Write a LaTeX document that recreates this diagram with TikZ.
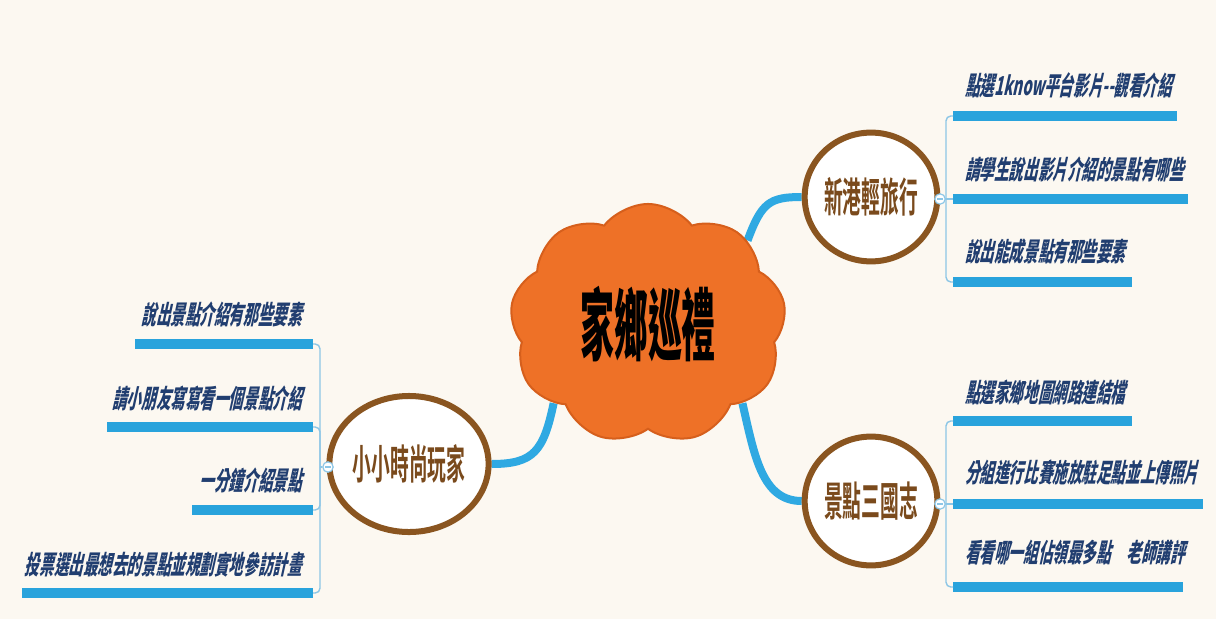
\documentclass[tikz,border=0pt]{standalone}
\usepackage{fontspec}
\usetikzlibrary{shapes.geometric,shapes.symbols}

\newfontfamily\descfont[FakeStretch=0.56,FakeSlant=0.22]{Noto Sans CJK TC Black}
\newfontfamily\topicfont[FakeStretch=0.46]{Noto Sans CJK TC Bold}
\newfontfamily\hubfont[FakeStretch=0.43]{Noto Sans CJK TC Black}

\definecolor{paper}{HTML}{FCF8F1}
\definecolor{hubfill}{HTML}{EE7127}
\definecolor{hubline}{HTML}{D65F1C}
\definecolor{topicline}{HTML}{8A5520}
\definecolor{topictext}{HTML}{7A4A1C}
\definecolor{desctext}{HTML}{213E70}
\definecolor{barblue}{HTML}{29A3DC}
\definecolor{linkblue}{HTML}{2FA9E2}
\definecolor{bracketblue}{HTML}{8CC6E6}

\pgfdeclarelayer{bg}
\pgfdeclarelayer{links}
\pgfsetlayers{bg,links,main}

\begin{document}
\begin{tikzpicture}[x = 0.025cm, y = -0.025cm,
    hub/.style = {cloud, cloud puffs = 9, cloud puff arc = 105, aspect = 1.1,
                  draw = hubline, fill = hubfill, line width = 0.05cm,
                  minimum width = 6.9cm, minimum height = 6.0cm, inner sep = 0pt,
                  font = \hubfont\fontsize{56pt}{60pt}\selectfont},
    topic/.style = {ellipse, draw = topicline, fill = white, line width = 0.15cm,
                    inner sep = 0pt, text = topictext,
                    font = \topicfont\fontsize{29pt}{32pt}\selectfont},
    desc/.style = {inner sep = 0pt, text = desctext,
                   font = \descfont\fontsize{18.5pt}{20pt}\selectfont},
    bar/.style = {draw = barblue, line width = 0.27cm},
    branch/.style = {draw = linkblue, line width = 0.2cm},
    bracket/.style = {draw = bracketblue, line width = 0.035cm, rounded corners = 0.12cm},
    knob/.style = {circle, draw = bracketblue, fill = white, line width = 0.03cm,
                   minimum size = 0.26cm, inner sep = 0pt}]

\begin{pgfonlayer}{bg}
\fill[paper] (0,0) rectangle (1216,619);
\end{pgfonlayer}

% centre and topics
\node [hub] (hub) at (648,324) {家鄉巡禮};
\node [topic, minimum width = 3.15cm, minimum height = 3.22cm] (trip) at (871,197) {新港輕旅行};
\node [topic, minimum width = 3.15cm, minimum height = 3.22cm] (map) at (871,501) {景點三國志};
\node [topic, minimum width = 3.65cm, minimum height = 3.4cm] (play) at (409,464) {小小時尚玩家};

\begin{pgfonlayer}{links}
\draw[branch] (hub.40) .. controls +(14,-38) and +(-32,0) .. (trip.west);
\draw[branch] (hub.-40) .. controls +(12,52) and +(-40,0) .. (map.west);
\draw[branch] (hub.220) .. controls +(-10,48) and +(42,0) .. (play.east);
\end{pgfonlayer}

% knobs
\node [knob] (tripknob) at (940,199) {};
\node [knob] (mapknob) at (940,504) {};
\node [knob] (playknob) at (328,467) {};
\draw[bracketblue, line width = 0.03cm] ([xshift=-0.08cm]tripknob.center) -- ([xshift=0.08cm]tripknob.center);
\draw[bracketblue, line width = 0.03cm] ([xshift=-0.08cm]mapknob.center) -- ([xshift=0.08cm]mapknob.center);
\draw[bracketblue, line width = 0.03cm] ([xshift=-0.08cm]playknob.center) -- ([xshift=0.08cm]playknob.center);

\coordinate (tripfork) at (946,199);
\coordinate (mapfork) at (946,504);
\coordinate (playfork) at (320,467);

% bars under the texts
\coordinate (t1bar) at (953,116);
\coordinate (t2bar) at (953,199);
\coordinate (t3bar) at (953,282);
\coordinate (m1bar) at (953,421);
\coordinate (m2bar) at (953,504);
\coordinate (m3bar) at (953,587);
\coordinate (p1bar) at (313,344);
\coordinate (p2bar) at (313,427);
\coordinate (p3bar) at (313,510);
\coordinate (p4bar) at (313,593);

\draw[bar] (t1bar) -- (1177,116);
\draw[bar] (t2bar) -- (1188,199);
\draw[bar] (t3bar) -- (1132,282);
\draw[bar] (m1bar) -- (1132,421);
\draw[bar] (m2bar) -- (1203,504);
\draw[bar] (m3bar) -- (1183,587);
\draw[bar] (p1bar) -- (135,344);
\draw[bar] (p2bar) -- (107,427);
\draw[bar] (p3bar) -- (192,510);
\draw[bar] (p4bar) -- (22,593);

% brackets
\draw[bracket] (tripknob.east) -- (tripfork);
\draw[bracket] (tripfork) |- (t1bar);
\draw[bracket] (tripfork) -- (t2bar);
\draw[bracket] (tripfork) |- (t3bar);
\draw[bracket] (mapknob.east) -- (mapfork);
\draw[bracket] (mapfork) |- (m1bar);
\draw[bracket] (mapfork) -- (m2bar);
\draw[bracket] (mapfork) |- (m3bar);
\draw[bracket] (playknob.west) -- (playfork);
\draw[bracket] (playfork) |- (p1bar);
\draw[bracket] (playfork) |- (p2bar);
\draw[bracket] (playfork) |- (p3bar);
\draw[bracket] (playfork) |- (p4bar);

% texts of 新港輕旅行
\node [desc, anchor = west] (t1) at (965,85) {點選1know平台影片-{}-觀看介紹};
\node [desc, anchor = west] (t2) at (965,170) {請學生說出影片介紹的景點有哪些};
\node [desc, anchor = west] (t3) at (965,252) {說出能成景點有那些要素};

% texts of 景點三國志
\node [desc, anchor = west] (m1) at (965,392) {點選家鄉地圖網路連結檔};
\node [desc, anchor = west] (m2) at (965,472) {分組進行比賽施放駐足點並上傳照片};
\node [desc, anchor = west] (m3) at (965,553) {看看哪一組佔領最多點\hspace{0.6em}老師講評};

% texts of 小小時尚玩家
\node [desc, anchor = east] (p1) at (302,315) {說出景點介紹有那些要素};
\node [desc, anchor = east] (p2) at (302,398) {請小朋友寫寫看一個景點介紹};
\node [desc, anchor = east] (p3) at (302,480) {一分鐘介紹景點};
\node [desc, anchor = east] (p4) at (302,565) {投票選出最想去的景點並規劃實地參訪計畫};
\end{tikzpicture}
\end{document}
